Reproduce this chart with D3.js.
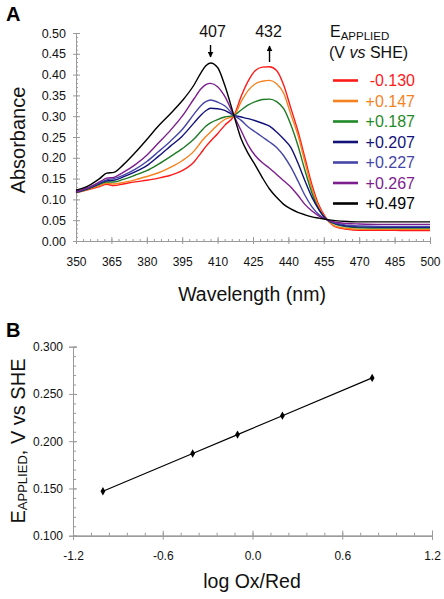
<!DOCTYPE html>
<html>
<head>
<meta charset="utf-8">
<script src="https://cdn.jsdelivr.net/npm/d3@7"></script>
<style>
  html, body { margin: 0; padding: 0; background: #fff; }
  svg { display: block; font-family: "Liberation Sans", Arial, Helvetica, sans-serif; }
</style>
</head>
<body>
<svg id="chart" width="444" height="599"></svg>
<script>
// ---------------- Data: panel A (absorbance spectra) ----------------
const wavelengths = [350, 355, 360, 363, 366, 370, 375, 380, 385, 390, 395, 400, 403, 405, 407, 410, 413, 417, 420, 423, 426, 429, 432, 435, 438, 441, 444, 447, 450, 453, 456, 460, 465, 470, 480, 490, 500];

const potentials = ["-0.130", "+0.147", "+0.187", "+0.207", "+0.227", "+0.267", "+0.497"];
const seriesColors = ["#ff1a1a", "#f5821f", "#1e7a24", "#12127a", "#4646a8", "#7d1d8e", "#000000"];
const legendColors = ["#ff1a1a", "#f5821f", "#1f8a26", "#12127a", "#4646a8", "#7d1d8e", "#000000"];

const absRed    = [0.116, 0.123, 0.131, 0.136, 0.133, 0.137, 0.142, 0.146, 0.151, 0.158, 0.169, 0.190, 0.212, 0.227, 0.240, 0.258, 0.278, 0.302, 0.348, 0.385, 0.410, 0.418, 0.419, 0.410, 0.375, 0.320, 0.265, 0.200, 0.135, 0.085, 0.055, 0.034, 0.028, 0.026, 0.026, 0.025, 0.025];
const absOrange = [0.116, 0.124, 0.133, 0.139, 0.137, 0.141, 0.147, 0.155, 0.164, 0.177, 0.193, 0.216, 0.238, 0.251, 0.262, 0.279, 0.292, 0.302, 0.335, 0.362, 0.378, 0.384, 0.386, 0.378, 0.355, 0.305, 0.255, 0.190, 0.125, 0.080, 0.054, 0.035, 0.030, 0.028, 0.028, 0.028, 0.028];
const absGreen  = [0.117, 0.125, 0.136, 0.142, 0.142, 0.148, 0.158, 0.169, 0.185, 0.203, 0.222, 0.245, 0.264, 0.276, 0.284, 0.292, 0.298, 0.302, 0.315, 0.327, 0.335, 0.340, 0.341, 0.335, 0.318, 0.280, 0.230, 0.170, 0.115, 0.075, 0.053, 0.040, 0.034, 0.032, 0.031, 0.031, 0.031];
const absNavy   = [0.117, 0.126, 0.138, 0.145, 0.146, 0.154, 0.166, 0.181, 0.204, 0.228, 0.252, 0.284, 0.303, 0.313, 0.319, 0.318, 0.314, 0.302, 0.298, 0.294, 0.289, 0.283, 0.276, 0.262, 0.245, 0.225, 0.188, 0.145, 0.105, 0.075, 0.053, 0.042, 0.036, 0.034, 0.033, 0.033, 0.033];
const absBlue   = [0.118, 0.127, 0.140, 0.147, 0.150, 0.158, 0.172, 0.191, 0.215, 0.240, 0.268, 0.305, 0.326, 0.335, 0.339, 0.334, 0.325, 0.302, 0.290, 0.274, 0.262, 0.250, 0.238, 0.225, 0.205, 0.178, 0.145, 0.110, 0.082, 0.063, 0.052, 0.043, 0.038, 0.036, 0.035, 0.035, 0.035];
const absPurple = [0.119, 0.128, 0.142, 0.151, 0.153, 0.165, 0.183, 0.206, 0.236, 0.266, 0.300, 0.342, 0.366, 0.376, 0.379, 0.371, 0.348, 0.300, 0.265, 0.230, 0.205, 0.188, 0.175, 0.160, 0.145, 0.130, 0.110, 0.088, 0.072, 0.060, 0.052, 0.045, 0.042, 0.041, 0.040, 0.040, 0.040];
const absBlack  = [0.122, 0.132, 0.150, 0.163, 0.165, 0.183, 0.212, 0.244, 0.277, 0.306, 0.337, 0.375, 0.405, 0.421, 0.428, 0.417, 0.375, 0.300, 0.245, 0.210, 0.182, 0.152, 0.125, 0.105, 0.088, 0.077, 0.069, 0.063, 0.058, 0.055, 0.052, 0.049, 0.047, 0.046, 0.046, 0.046, 0.046];

const spectra = [absRed, absOrange, absGreen, absNavy, absBlue, absPurple, absBlack];

const xTicksA = [350, 365, 380, 395, 410, 425, 440, 455, 470, 485, 500];
const yTicksA = [0, 0.05, 0.10, 0.15, 0.20, 0.25, 0.30, 0.35, 0.40, 0.45, 0.50];

// ---------------- Data: panel B (Nernst plot) ----------------
const logOxRed = [-1.0, -0.4, -0.1, 0.2, 0.8];
const eApplied = [0.147, 0.187, 0.207, 0.227, 0.267];
const xTicksB = [-1.2, -0.6, 0.0, 0.6, 1.2];
const yTicksB = [0.100, 0.150, 0.200, 0.250, 0.300];

// ---------------- Drawing ----------------
const svg = d3.select("#chart");
const axisGrey = "#9a9a9a";
const font = "'Liberation Sans', Arial, Helvetica, sans-serif";
const hyphenFmt = f => (d => f(d).replace("\u2212", "-"));

function styleAxis(g) {
  g.selectAll("path.domain").attr("stroke", axisGrey).attr("stroke-width", 1);
  g.selectAll(".tick line").attr("stroke", axisGrey).attr("stroke-width", 1);
  g.selectAll(".tick text").attr("fill", "#111").attr("font-family", font);
}

// ===== Panel A =====
const xA = d3.scaleLinear().domain([350, 500]).range([76, 430]);
const yA = d3.scaleLinear().domain([0, 0.5]).range([241, 33]);

const xMinorA = d3.range(350, 500.1, 3);
const yMinorA = d3.range(0, 0.5001, 0.01);

svg.append("g").attr("transform", "translate(0,241)")
  .call(d3.axisBottom(xA).tickValues(xMinorA).tickSize(-2).tickFormat(""))
  .call(styleAxis);
svg.append("g").attr("transform", "translate(76,0)")
  .call(d3.axisLeft(yA).tickValues(yMinorA).tickSize(-2).tickFormat(""))
  .call(styleAxis);

svg.append("g").attr("transform", "translate(0,241)")
  .call(d3.axisBottom(xA).tickValues(xTicksA).tickSize(-4).tickFormat(""))
  .call(styleAxis);
const gxA = svg.append("g").attr("transform", "translate(0,241)")
  .call(d3.axisBottom(xA).tickValues(xTicksA).tickSize(3).tickPadding(13).tickFormat(d3.format("d")))
  .call(styleAxis);
gxA.selectAll(".tick text").attr("font-size", 12);

svg.append("g").attr("transform", "translate(76,0)")
  .call(d3.axisLeft(yA).tickValues(yTicksA).tickSize(-4).tickFormat(""))
  .call(styleAxis);
const gyA = svg.append("g").attr("transform", "translate(76,0)")
  .call(d3.axisLeft(yA).tickValues(yTicksA).tickSize(3).tickPadding(7).tickFormat(d3.format(".2f")))
  .call(styleAxis);
gyA.selectAll(".tick text").attr("font-size", 12.5);

// spectra
const lineA = d3.line()
  .x((d, i) => xA(wavelengths[i]))
  .y(d => yA(d))
  .curve(d3.curveMonotoneX);

svg.append("g").selectAll("path.spec")
  .data(spectra)
  .join("path")
  .attr("class", "spec")
  .attr("fill", "none")
  .attr("stroke", (d, i) => seriesColors[i])
  .attr("stroke-width", 1.4)
  .attr("stroke-linejoin", "round")
  .attr("d", lineA);

// axis titles panel A
svg.append("text")
  .attr("transform", "translate(25,140) rotate(-90)")
  .attr("text-anchor", "middle")
  .attr("font-size", 20).attr("font-family", font).attr("fill", "#111")
  .text("Absorbance");
svg.append("text")
  .attr("x", 252).attr("y", 301)
  .attr("text-anchor", "middle")
  .attr("font-size", 19.5).attr("font-family", font).attr("fill", "#111")
  .text("Wavelength (nm)");

svg.append("text").attr("x", 6).attr("y", 21)
  .attr("font-size", 20).attr("font-weight", "bold").attr("font-family", font)
  .text("A");

// peak annotations
const peakLabels = [407, 432];
svg.append("text").attr("x", xA(peakLabels[0]) + 2).attr("y", 37)
  .attr("text-anchor", "middle").attr("font-size", 16).attr("font-family", font).attr("fill", "#111")
  .text(String(peakLabels[0]));
svg.append("text").attr("x", xA(peakLabels[1]) - 1).attr("y", 37)
  .attr("text-anchor", "middle").attr("font-size", 16).attr("font-family", font).attr("fill", "#111")
  .text(String(peakLabels[1]));

svg.append("defs").append("marker")
  .attr("id", "arrowhead").attr("viewBox", "0 0 10 10")
  .attr("refX", 9).attr("refY", 5)
  .attr("markerWidth", 6).attr("markerHeight", 6)
  .attr("markerUnits", "userSpaceOnUse")
  .attr("orient", "auto")
  .append("path").attr("d", "M0,0 L10,5 L0,10 z").attr("fill", "#000");

svg.append("line")
  .attr("x1", xA(peakLabels[0])).attr("x2", xA(peakLabels[0]))
  .attr("y1", 45).attr("y2", 57)
  .attr("stroke", "#000").attr("stroke-width", 1.4)
  .attr("marker-end", "url(#arrowhead)");
svg.append("line")
  .attr("x1", xA(peakLabels[1])).attr("x2", xA(peakLabels[1]))
  .attr("y1", 62).attr("y2", 46)
  .attr("stroke", "#000").attr("stroke-width", 1.4)
  .attr("marker-end", "url(#arrowhead)");

// legend
const legHead = svg.append("text").attr("x", 330).attr("y", 37)
  .attr("font-family", font).attr("fill", "#111");
legHead.append("tspan").attr("font-size", 16).text("E");
legHead.append("tspan").attr("font-size", 11.5).attr("dy", 2.5).text("APPLIED");

const legHead2 = svg.append("text").attr("x", 329).attr("y", 58)
  .attr("font-family", font).attr("fill", "#111").attr("font-size", 16);
legHead2.append("tspan").text("(V ");
legHead2.append("tspan").attr("font-style", "italic").text("vs");
legHead2.append("tspan").text(" SHE)");

const legend = svg.append("g").selectAll("g.leg")
  .data(potentials)
  .join("g")
  .attr("class", "leg")
  .attr("transform", (d, i) => `translate(0,${80.5 + i * 20.5})`);
legend.append("line")
  .attr("x1", 333).attr("x2", 358).attr("y1", 0).attr("y2", 0)
  .attr("stroke", (d, i) => legendColors[i]).attr("stroke-width", 2.6);
legend.append("text")
  .attr("x", 415).attr("y", 5.5)
  .attr("text-anchor", "end")
  .attr("font-size", 16).attr("font-family", font)
  .attr("fill", (d, i) => legendColors[i])
  .text(d => d);

// ===== Panel B =====
const xB = d3.scaleLinear().domain([-1.2, 1.2]).range([73, 432]);
const yB = d3.scaleLinear().domain([0.1, 0.3]).range([535.7, 346.7]);

const xMinorB = d3.range(-1.2, 1.2001, 0.12);
const yMinorB = d3.range(0.1, 0.3001, 0.01);

svg.append("g").attr("transform", "translate(0,535.7)")
  .call(d3.axisBottom(xB).tickValues(xMinorB).tickSize(-3).tickFormat(""))
  .call(styleAxis);
svg.append("g").attr("transform", "translate(73,0)")
  .call(d3.axisLeft(yB).tickValues(yMinorB).tickSize(-3).tickFormat(""))
  .call(styleAxis);

svg.append("g").attr("transform", "translate(0,535.7)")
  .call(d3.axisBottom(xB).tickValues(xTicksB).tickSize(-5).tickFormat(""))
  .call(styleAxis);
const gxB = svg.append("g").attr("transform", "translate(0,535.7)")
  .call(d3.axisBottom(xB).tickValues(xTicksB).tickSize(4).tickPadding(12).tickFormat(hyphenFmt(d3.format(".1f"))))
  .call(styleAxis);
gxB.selectAll(".tick text").attr("font-size", 12);

svg.append("g").attr("transform", "translate(73,0)")
  .call(d3.axisLeft(yB).tickValues(yTicksB).tickSize(-4).tickFormat(""))
  .call(styleAxis);
const gyB = svg.append("g").attr("transform", "translate(73,0)")
  .call(d3.axisLeft(yB).tickValues(yTicksB).tickSize(4).tickPadding(6).tickFormat(d3.format(".3f")))
  .call(styleAxis);
gyB.selectAll(".tick text").attr("font-size", 12);

const ptsB = logOxRed.map((x, i) => [x, eApplied[i]]);
svg.append("path")
  .datum(ptsB)
  .attr("fill", "none").attr("stroke", "#000").attr("stroke-width", 1.2)
  .attr("d", d3.line().x(d => xB(d[0])).y(d => yB(d[1])));
svg.append("g").selectAll("path.pt")
  .data(ptsB)
  .join("path")
  .attr("class", "pt")
  .attr("transform", d => `translate(${xB(d[0])},${yB(d[1])})`)
  .attr("d", d3.symbol(d3.symbolDiamond, 20))
  .attr("fill", "#000");

// axis titles panel B
const yTitleB = svg.append("text")
  .attr("transform", "translate(25,441) rotate(-90)")
  .attr("text-anchor", "middle")
  .attr("font-family", font).attr("fill", "#111");
yTitleB.append("tspan").attr("font-size", 20).text("E");
yTitleB.append("tspan").attr("font-size", 13).attr("dy", 1.5).text("APPLIED");
yTitleB.append("tspan").attr("font-size", 20).attr("dy", -1.5).text(", V vs SHE");

svg.append("text")
  .attr("x", 252).attr("y", 588)
  .attr("text-anchor", "middle")
  .attr("font-size", 19.5).attr("font-family", font).attr("fill", "#111")
  .text("log Ox/Red");

svg.append("text").attr("x", 6).attr("y", 337)
  .attr("font-size", 20).attr("font-weight", "bold").attr("font-family", font)
  .text("B");
</script>
</body>
</html>
